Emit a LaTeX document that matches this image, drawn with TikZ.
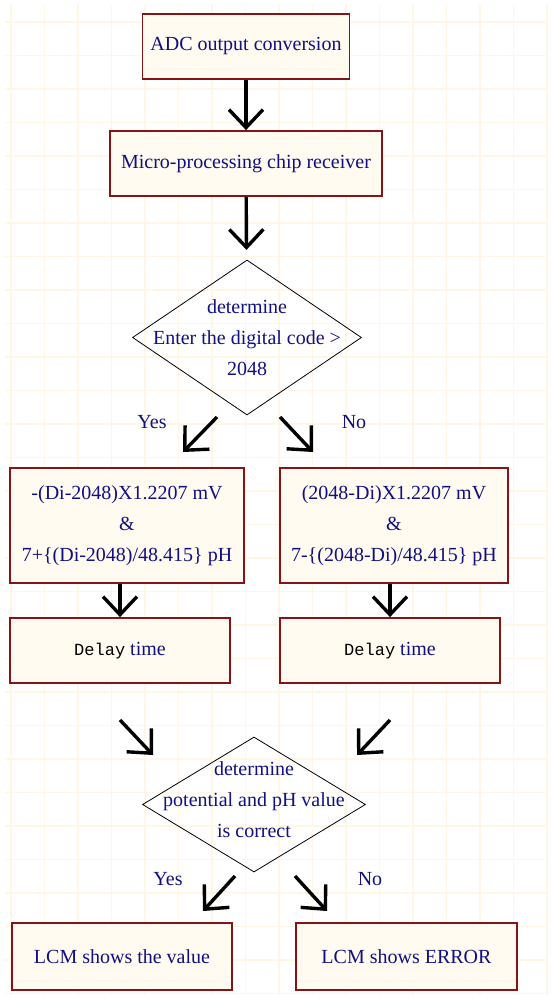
\documentclass[tikz,border=0pt]{standalone}
\usepackage{fontspec}
\setmainfont{Liberation Serif}
\newfontfamily\delayfont{Liberation Mono}
\usepackage{tikz}
\usepackage{xcolor}
\usetikzlibrary{arrows.meta,calc,shapes.geometric}
\definecolor{boxred}{RGB}{135,18,24}
\definecolor{boxfill}{RGB}{255,251,240}
\definecolor{textnavy}{RGB}{16,16,130}
\definecolor{gridcream}{RGB}{255,246,228}

\begin{document}
\begin{tikzpicture}[x=1pt,y=-1pt,line join=miter,
	procbox/.style={draw=boxred,fill=boxfill,line width=1.8pt,inner sep=0pt,text=textnavy,align=center,font=\fontsize{20}{31}\selectfont},
	decide/.style={draw=black,line width=0.8pt,diamond,inner sep=0pt},
	dtext/.style={text=textnavy,align=center,font=\fontsize{20}{31}\selectfont},
	flow/.style={line width=3.4pt,-{Straight Barb[length=18pt,width=34pt]}},
	gridline/.style={gridcream,line width=1.5pt}]
		\useasboundingbox (0,0) rectangle (553,1000);
		% background grid
		\foreach \gx in {0,...,16} \draw[gridline] ({11+33.5*\gx},5) -- ({11+33.5*\gx},995);
		\foreach \gy in {0,...,29} \draw[gridline] (5,{22+33.5*\gy}) -- (548,{22+33.5*\gy});
		% boxes
		\node[procbox,minimum width=207pt,minimum height=65pt] (adc) at (246,46.5) {ADC output conversion};
		\node[procbox,minimum width=272pt,minimum height=65pt] (chip) at (246,163.5) {Micro-processing chip receiver};
		\node[decide,minimum width=229pt,minimum height=155pt,label={[dtext]center:{determine\\Enter the digital code >\\2048}}] (code) at (247,337.5) {};
		\node[procbox,minimum width=234pt,minimum height=115pt] (negcalc) at (127,525.5) {-(Di-2048)X1.2207 mV\\\&\\7+\{(Di-2048)/48.415\} pH};
		\node[procbox,minimum width=228pt,minimum height=115pt] (poscalc) at (394,525.5) {(2048-Di)X1.2207 mV\\\&\\7-\{(2048-Di)/48.415\} pH};
		\node[procbox,minimum width=220pt,minimum height=65pt] (delayl) at (120,650.5) {{\color{black}\delayfont\fontsize{17}{20}\selectfont Delay} time};
		\node[procbox,minimum width=220pt,minimum height=65pt] (delayr) at (390,650.5) {{\color{black}\delayfont\fontsize{17}{20}\selectfont Delay} time};
		\node[decide,minimum width=223pt,minimum height=135pt,label={[dtext,yshift=5pt]center:{determine\\potential and pH value\\is correct}}] (check) at (254,804.5) {};
		\node[procbox,minimum width=220pt,minimum height=67pt] (showval) at (122,956.5) {LCM shows the value};
		\node[procbox,minimum width=221pt,minimum height=67pt] (showerr) at (406.5,956.5) {LCM shows ERROR};
		% branch labels
		\node[dtext] (yes1) at (152,422) {Yes};
		\node[dtext] (no1) at (354,422) {No};
		\node[dtext] (yes2) at (168,879) {Yes};
		\node[dtext] (no2) at (370,879) {No};
		% free arrow ends
		\coordinate (yes1a) at (217,417); \coordinate (yes1b) at (183,452);
		\coordinate (no1a) at (280,417); \coordinate (no1b) at (313,452);
		\coordinate (joinla) at (120,720); \coordinate (joinlb) at (153,755);
		\coordinate (joinra) at (390,720); \coordinate (joinrb) at (357,755);
		\coordinate (yes2a) at (235,876); \coordinate (yes2b) at (203,911);
		\coordinate (no2a) at (295,876); \coordinate (no2b) at (327,911);
		% arrows
		\draw[flow] (adc) -- (chip);
		\draw[flow,shorten >=10pt] (chip) -- (code);
		\draw[flow] (yes1a) -- (yes1b);
		\draw[flow] (no1a) -- (no1b);
		\draw[flow] (negcalc.south -| delayl.north) -- (delayl.north);
		\draw[flow] (poscalc.south -| delayr.north) -- (delayr.north);
		\draw[flow] (joinla) -- (joinlb);
		\draw[flow] (joinra) -- (joinrb);
		\draw[flow] (yes2a) -- (yes2b);
		\draw[flow] (no2a) -- (no2b);
\end{tikzpicture}
\end{document}
